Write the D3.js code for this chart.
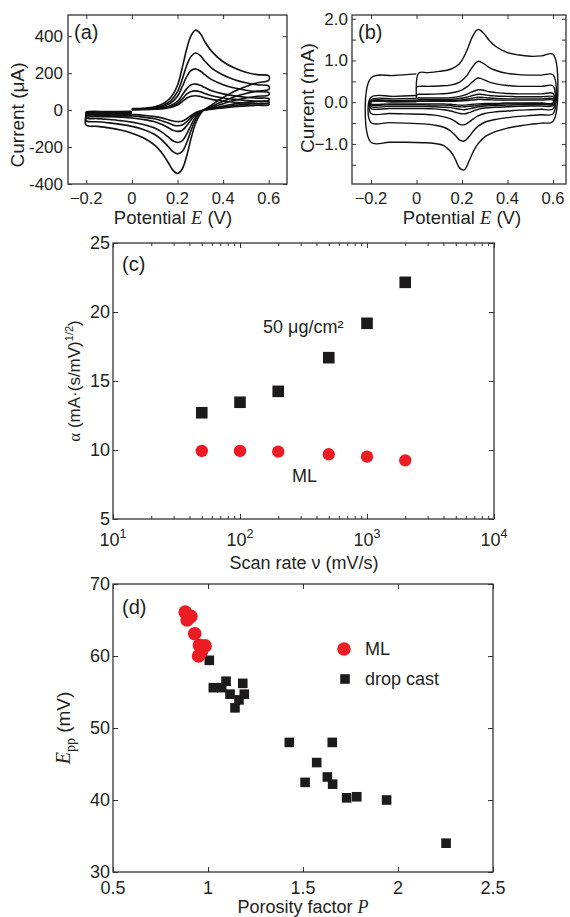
<!DOCTYPE html>
<html><head><meta charset="utf-8">
<script src="https://cdn.jsdelivr.net/npm/d3@7"></script>
<style>
body{margin:0;background:#fff}
svg{display:block;background:#fff}
text{font-family:"Liberation Sans",Arial,sans-serif;fill:#231f20}
.serif{font-family:"Liberation Serif","Times New Roman",serif}
</style>
</head><body><svg id="c" width="570" height="917"></svg>
<script>
// ---------- Panel (a): CV of ML film, current in µA ----------
const cvA_E = [0,0.05,0.10,0.14,0.17,0.20,0.22,0.24,0.26,0.28,0.30,0.32,0.35,0.40,0.45,0.50,0.55,0.60,
  0.60,
  0.55,0.50,0.45,0.40,0.35,0.31,0.28,0.26,0.24,0.22,0.20,0.18,0.16,0.13,0.10,0.05,0.0,-0.05,-0.10,-0.15,-0.20,
  -0.20,-0.10,0.0];
const cvA_I1 = [8,10,18,37,68,135,225,330,405,433,415,370,318,262,228,205,192,186, 162,
  148,128,102,68,28,-5,-70,-150,-250,-320,-343,-325,-285,-230,-190,-150,-125,-108,-96,-88,-82, -42,-36,-30];
const cvA_I2 = [6,8,14,28,50,100,165,240,292,309,295,265,228,190,165,148,137,130, 112,
  103,90,72,48,20,-4,-50,-108,-178,-225,-237,-225,-198,-160,-132,-105,-88,-77,-69,-63,-58, -32,-27,-22];
const cvA_I3 = [5,6,11,21,38,75,125,180,215,223,212,192,165,138,120,108,100,95, 82,
  75,66,53,35,14,-3,-36,-80,-130,-167,-175,-166,-146,-118,-97,-78,-65,-57,-51,-46,-42, -25,-21,-17];
const cvA_I4 = [4,5,8,14,25,48,80,115,137,141,134,122,105,88,77,70,65,62, 52,
  48,42,34,22,9,-2,-24,-52,-85,-110,-115,-109,-95,-77,-63,-51,-43,-38,-34,-31,-29, -18,-15,-12];
const cvA_I5 = [3,4,6,11,19,36,60,86,101,104,99,90,78,66,58,52,48,46, 38,
  35,31,25,16,7,-2,-18,-39,-63,-81,-85,-80,-70,-57,-47,-38,-32,-28,-25,-23,-21, -13,-11,-9];
const cvA_I6 = [2,3,5,8,14,27,45,64,75,78,74,67,58,49,43,39,36,34, 28,
  26,23,18,12,5,-1,-13,-29,-47,-60,-62,-59,-52,-42,-35,-28,-24,-21,-19,-17,-16, -10,-8,-6];
const cvA_curves = [cvA_I1,cvA_I2,cvA_I3,cvA_I4,cvA_I5,cvA_I6];
const ticksA_x = [-0.2,0,0.2,0.4,0.6];
const ticksA_y = [-400,-200,0,200,400];

// ---------- Panel (b): CV of drop-cast film, current in mA ----------
const cvB_E = [0,0.01,0.05,0.10,0.15,0.19,0.22,0.24,0.26,0.27,0.28,0.30,0.32,0.35,0.40,0.45,0.50,0.55,0.60,
  0.60,
  0.55,0.50,0.45,0.40,0.35,0.30,0.27,0.25,0.23,0.21,0.19,0.17,0.15,0.12,0.08,0.03,-0.05,-0.12,-0.20,
  -0.20,-0.10,0.0];
const cvB_I1 = [0.10,0.70,0.71,0.74,0.79,0.93,1.22,1.50,1.70,1.74,1.73,1.62,1.48,1.33,1.19,1.13,1.10,1.11,1.15, -0.46,
  -0.50,-0.53,-0.57,-0.62,-0.70,-0.83,-1.00,-1.18,-1.42,-1.62,-1.58,-1.36,-1.18,-1.04,-0.99,-0.97,-0.96,-0.96,-0.96, 0.58,0.64,0.68];
const cvB_I2 = [0.36,0.38,0.38,0.39,0.41,0.48,0.63,0.80,0.94,0.98,0.97,0.91,0.83,0.76,0.69,0.66,0.65,0.65,0.66, -0.28,
  -0.30,-0.32,-0.34,-0.37,-0.41,-0.48,-0.58,-0.69,-0.83,-0.93,-0.91,-0.79,-0.69,-0.60,-0.55,-0.52,-0.50,-0.49,-0.49, 0.12,0.14,0.16];
const cvB_I3 = [0.18,0.19,0.19,0.20,0.22,0.27,0.36,0.46,0.55,0.58,0.57,0.53,0.48,0.44,0.40,0.38,0.38,0.38,0.39, -0.16,
  -0.17,-0.18,-0.19,-0.21,-0.23,-0.27,-0.33,-0.40,-0.48,-0.54,-0.53,-0.46,-0.40,-0.35,-0.31,-0.29,-0.28,-0.27,-0.27, 0.06,0.08,0.09];
const cvB_I4 = [0.09,0.10,0.10,0.10,0.11,0.14,0.19,0.24,0.28,0.30,0.30,0.28,0.25,0.23,0.21,0.20,0.20,0.20,0.21, -0.08,
  -0.09,-0.09,-0.10,-0.11,-0.12,-0.14,-0.17,-0.21,-0.25,-0.28,-0.27,-0.24,-0.21,-0.18,-0.16,-0.15,-0.15,-0.15,-0.15, 0.03,0.04,0.05];
const cvB_I5 = [0.05,0.06,0.06,0.06,0.07,0.09,0.12,0.15,0.18,0.19,0.19,0.18,0.16,0.15,0.14,0.13,0.13,0.13,0.13, -0.05,
  -0.05,-0.06,-0.06,-0.07,-0.08,-0.09,-0.11,-0.14,-0.16,-0.18,-0.17,-0.15,-0.13,-0.12,-0.11,-0.10,-0.10,-0.10,-0.10, 0.02,0.02,0.03];
const cvB_I6 = [0.03,0.03,0.03,0.04,0.04,0.05,0.07,0.09,0.11,0.12,0.12,0.11,0.10,0.09,0.08,0.08,0.08,0.08,0.08, -0.03,
  -0.03,-0.03,-0.04,-0.04,-0.05,-0.06,-0.07,-0.09,-0.10,-0.11,-0.11,-0.10,-0.08,-0.07,-0.07,-0.06,-0.06,-0.06,-0.06, 0.01,0.01,0.02];
const cvB_I7 = [0.02,0.02,0.02,0.02,0.02,0.03,0.04,0.05,0.06,0.07,0.07,0.06,0.06,0.05,0.05,0.05,0.05,0.05,0.05, -0.02,
  -0.02,-0.02,-0.02,-0.02,-0.03,-0.03,-0.04,-0.05,-0.06,-0.07,-0.07,-0.06,-0.05,-0.04,-0.04,-0.04,-0.04,-0.04,-0.04, 0.01,0.01,0.01];
const cvB_curves = [cvB_I1,cvB_I2,cvB_I3,cvB_I4,cvB_I5,cvB_I6,cvB_I7];
const ticksB_x = [-0.2,0,0.2,0.4,0.6];
const ticksB_yMajor = [-1,0,1,2];
const ticksB_yAll = [-1.5,-1,-0.5,0,0.5,1,1.5,2];

// ---------- Panel (c): alpha vs scan rate ----------
const scanRates = [50,100,200,500,1000,2000];
const alpha50 = [12.7,13.46,14.25,16.69,19.18,22.15];
const alphaML = [9.93,9.93,9.88,9.69,9.52,9.25];
const ticksC_x = [10,100,1000,10000];
const expC = ["1","2","3","4"];
const ticksC_y = [5,10,15,20,25];

// ---------- Panel (d): Epp vs porosity factor ----------
const P_ML   = [0.88,0.89,0.91,0.93,0.955,0.985,0.965,0.95];
const Epp_ML = [66.1,65.0,65.5,63.1,61.5,61.4,60.6,60.0];
const P_drop   = [1.007,1.028,1.072,1.095,1.116,1.142,1.163,1.183,1.191,1.428,1.654,1.572,1.511,1.628,1.656,1.73,1.783,1.94,2.253];
const Epp_drop = [59.4,55.6,55.6,56.5,54.7,52.8,53.9,56.2,54.7,48.0,48.0,45.2,42.45,43.2,42.2,40.3,40.45,40.0,34.0];
const ticksD_x = [0.5,1,1.5,2,2.5];
const ticksD_y = [30,40,50,60,70];

// ================= drawing =================
const svg = d3.select("#c");
const RED = "#ec1c24", BLK = "#1c1a1a", AX = "#333";

function frame(x, y, xMaj, yMaj, xMin, yMin, majLen, minLen) {
  const [l, r] = x.range(), [b, t] = y.range();
  const g = svg.append("g");
  const add = (axis, tr) => g.append("g").attr("transform", tr).call(axis)
    .call(s => { s.selectAll("text").remove(); s.select(".domain").remove();
                 s.selectAll("line").attr("stroke", AX).attr("stroke-width", 1); });
  const sets = [[xMaj, yMaj, majLen]];
  if (xMin || yMin) sets.push([xMin || [], yMin || [], minLen]);
  sets.forEach(([xv, yv, len]) => {
    add(d3.axisBottom(x).tickValues(xv).tickSize(-len).tickFormat(""), `translate(0,${b})`);
    add(d3.axisTop(x).tickValues(xv).tickSize(-len).tickFormat(""), `translate(0,${t})`);
    add(d3.axisLeft(y).tickValues(yv).tickSize(-len).tickFormat(""), `translate(${l},0)`);
    add(d3.axisRight(y).tickValues(yv).tickSize(-len).tickFormat(""), `translate(${r},0)`);
  });
  g.append("rect").attr("x", l).attr("y", t).attr("width", r - l).attr("height", b - t)
    .attr("fill", "none").attr("stroke", AX).attr("stroke-width", 1.3);
}
function xLabels(x, vals, fmt, yb, size) {
  svg.append("g").selectAll("text").data(vals).join("text")
    .attr("x", d => x(d)).attr("y", yb).attr("text-anchor", "middle")
    .attr("font-size", size).text(fmt);
}
function yLabels(y, vals, fmt, xe, size) {
  svg.append("g").selectAll("text").data(vals).join("text")
    .attr("x", xe).attr("y", d => y(d)).attr("dy", "0.34em").attr("text-anchor", "end")
    .attr("font-size", size).text(fmt);
}
function potentialLabel(cx, yb) {
  const t = svg.append("text").attr("x", cx).attr("y", yb).attr("text-anchor", "middle").attr("font-size", 18.5);
  t.append("tspan").text("Potential ");
  t.append("tspan").attr("class", "serif").attr("font-style", "italic").text("E");
  t.append("tspan").text(" (V)");
}
function rotLabel(cx, cy) {
  return svg.append("text").attr("transform", `translate(${cx},${cy}) rotate(-90)`)
    .attr("text-anchor", "middle").attr("font-size", 19);
}
const fmtA = d => d === 0 ? "0" : d3.format(".1f")(d);

// ---- (a)
const xa = d3.scaleLinear().domain([-0.28, 0.68]).range([68, 287]);
const ya = d3.scaleLinear().domain([-400, 515]).range([184, 15]);
const lineA = d3.line().x(d => xa(d[0])).y(d => ya(d[1])).curve(d3.curveCatmullRom.alpha(0.5));
svg.append("g").selectAll("path").data(cvA_curves).join("path")
  .attr("d", I => lineA(cvA_E.map((e, i) => [e, I[i]])))
  .attr("fill", "none").attr("stroke", "#111").attr("stroke-width", 1.6).attr("stroke-linejoin", "round");
frame(xa, ya, ticksA_x, ticksA_y, null, null, 4, 0);
xLabels(xa, ticksA_x, fmtA, 203.5, 16.5);
yLabels(ya, ticksA_y, d => String(d), 63, 17);
potentialLabel(173, 224);
{ const t = rotLabel(24, 115); t.text("Current (μA)"); }
svg.append("text").attr("x", 74).attr("y", 39).attr("font-size", 20).text("(a)");

// ---- (b)
const xb = d3.scaleLinear().domain([-0.2835, 0.657]).range([352, 566]);
const yb = d3.scaleLinear().domain([-1.96, 2.09]).range([184, 15]);
const lineB = d3.line().x(d => xb(d[0])).y(d => yb(d[1])).curve(d3.curveCatmullRom.alpha(0.5));
svg.append("g").selectAll("path").data(cvB_curves).join("path")
  .attr("d", I => lineB(cvB_E.map((e, i) => [e, I[i]])))
  .attr("fill", "none").attr("stroke", "#111").attr("stroke-width", 1.4).attr("stroke-linejoin", "round");
frame(xb, yb, ticksB_x, ticksB_yAll, null, null, 4, 0);
xLabels(xb, ticksB_x, fmtA, 203.5, 16.5);
yLabels(yb, ticksB_yMajor, d => d3.format(".1f")(d), 348, 17);
potentialLabel(462, 224);
{ const t = rotLabel(314, 98); t.text("Current (mA)"); }
svg.append("text").attr("x", 358).attr("y", 39).attr("font-size", 20).text("(b)");

// ---- (c)
const xc = d3.scaleLog().domain([10, 10000]).range([113, 494]);
const yc = d3.scaleLinear().domain([5, 25]).range([519, 243]);
const minorC = [];
[10, 100, 1000].forEach(dec => { for (let k = 2; k <= 9; k++) minorC.push(dec * k); });
frame(xc, yc, ticksC_x, ticksC_y, minorC, [], 5, 3);
svg.append("g").selectAll("rect").data(scanRates).join("rect")
  .attr("x", (d) => xc(d) - 5.8).attr("y", (d, i) => yc(alpha50[i]) - 5.8)
  .attr("width", 11.6).attr("height", 11.6).attr("fill", BLK);
svg.append("g").selectAll("circle").data(scanRates).join("circle")
  .attr("cx", d => xc(d)).attr("cy", (d, i) => yc(alphaML[i])).attr("r", 6.2).attr("fill", RED);
yLabels(yc, ticksC_y, d => String(d), 110, 18);
{
  const g = svg.append("g").selectAll("text").data(ticksC_x).join("text")
    .attr("x", d => xc(d)).attr("y", 546).attr("text-anchor", "middle").attr("font-size", 18);
  g.append("tspan").text("10");
  g.append("tspan").attr("font-size", 12.5).attr("dy", -8).text((d, i) => expC[i]);
}
{
  const t = svg.append("text").attr("x", 304).attr("y", 569).attr("text-anchor", "middle").attr("font-size", 18);
  t.text("Scan rate ν (mV/s)");
}
{
  const t = rotLabel(80, 381).attr("font-size", 17);
  t.append("tspan").attr("class", "serif").text("α");
  t.append("tspan").text(" (mA·(s/mV)");
  t.append("tspan").attr("font-size", 11).attr("dy", -7).text("1/2");
  t.append("tspan").attr("dy", 7).text(")");
}
svg.append("text").attr("x", 263).attr("y", 333).attr("font-size", 18).text("50 μg/cm²");
svg.append("text").attr("x", 292).attr("y", 482).attr("font-size", 18).text("ML");
svg.append("text").attr("x", 122).attr("y", 271).attr("font-size", 20).text("(c)");

// ---- (d)
const xd = d3.scaleLinear().domain([0.5, 2.5]).range([113, 493]);
const yd = d3.scaleLinear().domain([30, 70]).range([872, 584]);
frame(xd, yd, ticksD_x, ticksD_y, null, null, 5, 0);
svg.append("g").selectAll("rect").data(P_drop).join("rect")
  .attr("x", d => xd(d) - 4.8).attr("y", (d, i) => yd(Epp_drop[i]) - 4.8)
  .attr("width", 9.6).attr("height", 9.6).attr("fill", BLK);
svg.append("g").selectAll("circle").data(P_ML).join("circle")
  .attr("cx", d => xd(d)).attr("cy", (d, i) => yd(Epp_ML[i])).attr("r", 6.8).attr("fill", RED);
xLabels(xd, ticksD_x, d => String(d), 894, 18);
yLabels(yd, ticksD_y, d => String(d), 110, 18);
{
  const t = svg.append("text").attr("x", 303).attr("y", 913).attr("text-anchor", "middle").attr("font-size", 18);
  t.append("tspan").text("Porosity factor ");
  t.append("tspan").attr("class", "serif").attr("font-style", "italic").text("P");
}
{
  const t = rotLabel(70, 728).attr("font-size", 19);
  t.append("tspan").attr("class", "serif").attr("font-style", "italic").attr("font-size", 20).text("E");
  t.append("tspan").attr("class", "serif").attr("font-size", 14).attr("dy", 5).text("pp");
  t.append("tspan").attr("dy", -5).text(" (mV)");
}
svg.append("text").attr("x", 122).attr("y", 614).attr("font-size", 20).text("(d)");
// legend
svg.append("circle").attr("cx", 344).attr("cy", 649).attr("r", 6.8).attr("fill", RED);
svg.append("rect").attr("x", 340.2).attr("y", 674.2).attr("width", 9.6).attr("height", 9.6).attr("fill", BLK);
svg.append("text").attr("x", 365).attr("y", 655).attr("font-size", 18).text("ML");
svg.append("text").attr("x", 365).attr("y", 685).attr("font-size", 18).text("drop cast");
</script>
</body></html>
